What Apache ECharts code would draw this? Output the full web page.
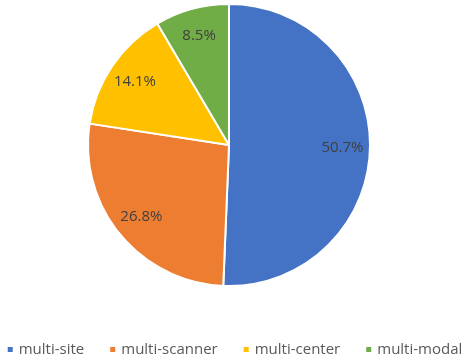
<!DOCTYPE html>
<html><head><meta charset="utf-8">
<script src="https://cdn.jsdelivr.net/npm/echarts@6/dist/echarts.min.js"></script>
<style>html,body{margin:0;padding:0;background:#fff}#c{width:468px;height:357px}</style>
</head><body><div id="c"></div>
<script>
const categories = ['multi-site', 'multi-scanner', 'multi-center', 'multi-modal'];
const values = [50.7, 26.8, 14.1, 8.5];
const colors = ['#4472C4', '#ED7D31', '#FFC000', '#70AD47'];
const fontFam = '"Open Sans", "Noto Sans", sans-serif';
const chart = echarts.init(document.getElementById('c'));
const data = categories.map((n, i) => ({ name: n, value: values[i], itemStyle: { color: colors[i] } }));
chart.setOption({
  animation: false,
  legend: {
    data: categories, top: 337, left: 'center', icon: 'rect', itemWidth: 7, itemHeight: 7,
    itemGap: 24, textStyle: { fontFamily: fontFam, fontSize: 15, color: '#595959' }
  },
  series: [
    {
      type: 'pie', center: [229, 145], radius: [0, 141], startAngle: 90, clockwise: true,
      data: data, label: { show: false }, labelLine: { show: false },
      itemStyle: { borderColor: '#fff', borderWidth: 2 }, silent: true
    },
    {
      type: 'pie', center: [229, 145], radius: [80, 141], startAngle: 90, clockwise: true,
      data: data.map(d => ({ name: d.name, value: d.value, itemStyle: { color: 'rgba(0,0,0,0)' } })),
      label: { show: true, position: 'inside', formatter: '{c}%', fontFamily: fontFam, fontSize: 15, color: '#404040' },
      labelLine: { show: false }, silent: true, legendHoverLink: false
    }
  ]
});
</script></body></html>
